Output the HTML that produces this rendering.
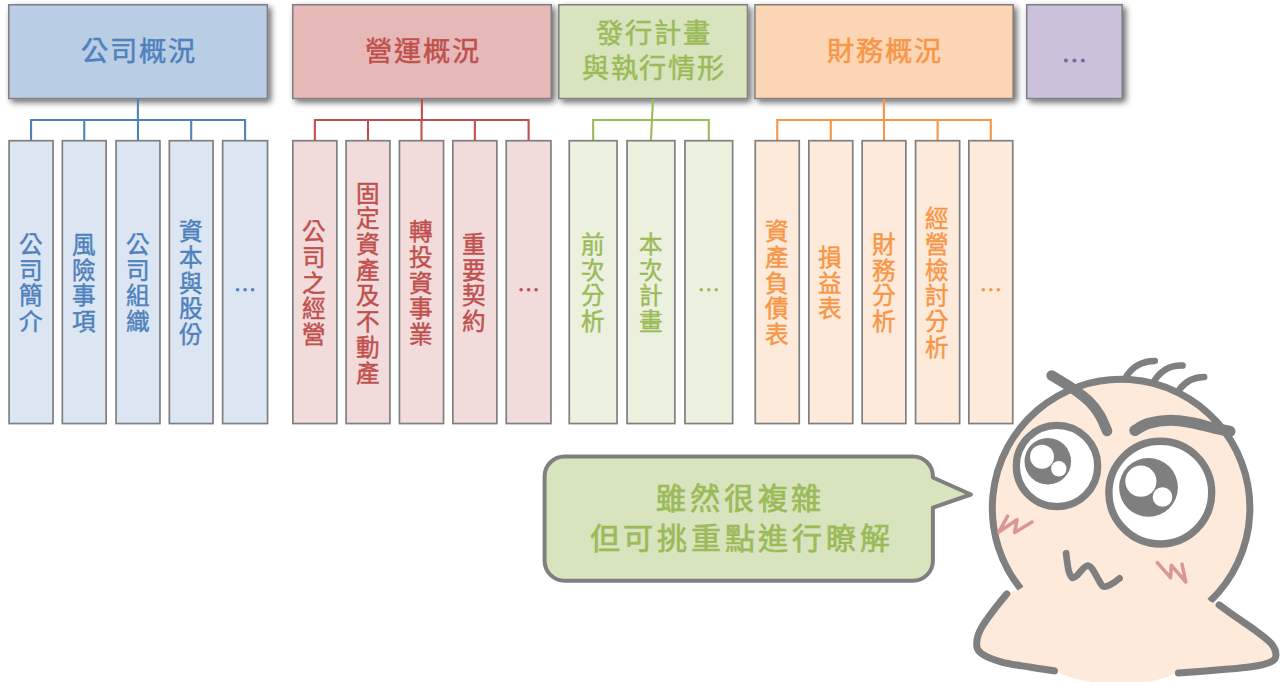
<!DOCTYPE html>
<html lang="zh-TW"><head><meta charset="utf-8"><style>
html,body{margin:0;padding:0;background:#fff;width:1280px;height:682px;overflow:hidden}
svg{display:block;font-family:'Liberation Sans', sans-serif}
</style></head><body>
<svg width="1280" height="682" viewBox="0 0 1280 682">
<defs><filter id="sh" x="-10%" y="-10%" width="130%" height="140%"><feGaussianBlur in="SourceAlpha" stdDeviation="3"/><feOffset dx="2.5" dy="3"/><feComponentTransfer><feFuncA type="linear" slope="0.6"/></feComponentTransfer><feMerge><feMergeNode/><feMergeNode in="SourceGraphic"/></feMerge></filter></defs>
<rect x="8.75" y="4.75" width="258.60" height="93.8" fill="#b9cde5" stroke="#7f7f7f" stroke-width="1.5" filter="url(#sh)"/>
<g fill="#4f81bd" stroke="#4f81bd" stroke-width="0.5" font-size="27.2" text-anchor="middle" dominant-baseline="central"><text x="94.78" y="51.20">公</text><text x="123.53" y="51.20">司</text><text x="152.28" y="51.20">概</text><text x="181.03" y="51.20">況</text></g>
<path d="M137.90,99 V120 M31.07,140.7 V120 H245.10 V140.7 M84.25,120 V140.7 M138.00,120 V140.7 M191.20,120 V140.7 " fill="none" stroke="#4f81bd" stroke-width="2.1"/>
<rect x="9.10" y="140.7" width="43.95" height="282.85" fill="#dce6f2" stroke="#7f7f7f" stroke-width="1.7"/>
<g fill="#4f81bd" stroke="#4f81bd" stroke-width="0.45" font-size="23.6" text-anchor="middle" dominant-baseline="central"><text x="30.68" y="245.05">公</text><text x="30.68" y="270.75">司</text><text x="30.68" y="296.45">簡</text><text x="30.68" y="322.15">介</text></g>
<rect x="62.35" y="140.7" width="43.80" height="282.85" fill="#dce6f2" stroke="#7f7f7f" stroke-width="1.7"/>
<g fill="#4f81bd" stroke="#4f81bd" stroke-width="0.45" font-size="23.6" text-anchor="middle" dominant-baseline="central"><text x="83.85" y="245.05">風</text><text x="83.85" y="270.75">險</text><text x="83.85" y="296.45">事</text><text x="83.85" y="322.15">項</text></g>
<rect x="116.05" y="140.7" width="43.90" height="282.85" fill="#dce6f2" stroke="#7f7f7f" stroke-width="1.7"/>
<g fill="#4f81bd" stroke="#4f81bd" stroke-width="0.45" font-size="23.6" text-anchor="middle" dominant-baseline="central"><text x="137.60" y="245.05">公</text><text x="137.60" y="270.75">司</text><text x="137.60" y="296.45">組</text><text x="137.60" y="322.15">織</text></g>
<rect x="169.35" y="140.7" width="43.70" height="282.85" fill="#dce6f2" stroke="#7f7f7f" stroke-width="1.7"/>
<g fill="#4f81bd" stroke="#4f81bd" stroke-width="0.45" font-size="23.6" text-anchor="middle" dominant-baseline="central"><text x="190.80" y="232.20">資</text><text x="190.80" y="257.90">本</text><text x="190.80" y="283.60">與</text><text x="190.80" y="309.30">股</text><text x="190.80" y="335.00">份</text></g>
<rect x="222.65" y="140.7" width="44.90" height="282.85" fill="#dce6f2" stroke="#7f7f7f" stroke-width="1.7"/>
<circle cx="237.60" cy="289.8" r="1.8" fill="#4f81bd"/><circle cx="245.10" cy="289.8" r="1.8" fill="#4f81bd"/><circle cx="252.60" cy="289.8" r="1.8" fill="#4f81bd"/>
<rect x="292.80" y="4.75" width="258.45" height="93.8" fill="#e6b9b8" stroke="#7f7f7f" stroke-width="1.5" filter="url(#sh)"/>
<g fill="#c0504d" stroke="#c0504d" stroke-width="0.5" font-size="27.2" text-anchor="middle" dominant-baseline="central"><text x="378.75" y="51.20">營</text><text x="407.50" y="51.20">運</text><text x="436.25" y="51.20">概</text><text x="465.00" y="51.20">況</text></g>
<path d="M421.88,99 V120 M314.85,140.7 V120 H528.60 V140.7 M368.00,120 V140.7 M421.50,120 V140.7 M474.85,120 V140.7 " fill="none" stroke="#c0504d" stroke-width="2.1"/>
<rect x="292.85" y="140.7" width="44.00" height="282.85" fill="#f2dcdb" stroke="#7f7f7f" stroke-width="1.7"/>
<g fill="#c0504d" stroke="#c0504d" stroke-width="0.45" font-size="23.6" text-anchor="middle" dominant-baseline="central"><text x="314.45" y="232.20">公</text><text x="314.45" y="257.90">司</text><text x="314.45" y="283.60">之</text><text x="314.45" y="309.30">經</text><text x="314.45" y="335.00">營</text></g>
<rect x="346.05" y="140.7" width="43.90" height="282.85" fill="#f2dcdb" stroke="#7f7f7f" stroke-width="1.7"/>
<g fill="#c0504d" stroke="#c0504d" stroke-width="0.45" font-size="23.6" text-anchor="middle" dominant-baseline="central"><text x="367.60" y="193.65">固</text><text x="367.60" y="219.35">定</text><text x="367.60" y="245.05">資</text><text x="367.60" y="270.75">產</text><text x="367.60" y="296.45">及</text><text x="367.60" y="322.15">不</text><text x="367.60" y="347.85">動</text><text x="367.60" y="373.55">產</text></g>
<rect x="399.45" y="140.7" width="44.10" height="282.85" fill="#f2dcdb" stroke="#7f7f7f" stroke-width="1.7"/>
<g fill="#c0504d" stroke="#c0504d" stroke-width="0.45" font-size="23.6" text-anchor="middle" dominant-baseline="central"><text x="421.10" y="232.20">轉</text><text x="421.10" y="257.90">投</text><text x="421.10" y="283.60">資</text><text x="421.10" y="309.30">事</text><text x="421.10" y="335.00">業</text></g>
<rect x="452.85" y="140.7" width="44.00" height="282.85" fill="#f2dcdb" stroke="#7f7f7f" stroke-width="1.7"/>
<g fill="#c0504d" stroke="#c0504d" stroke-width="0.45" font-size="23.6" text-anchor="middle" dominant-baseline="central"><text x="474.45" y="245.05">重</text><text x="474.45" y="270.75">要</text><text x="474.45" y="296.45">契</text><text x="474.45" y="322.15">約</text></g>
<rect x="506.25" y="140.7" width="44.70" height="282.85" fill="#f2dcdb" stroke="#7f7f7f" stroke-width="1.7"/>
<circle cx="521.10" cy="289.8" r="1.8" fill="#c0504d"/><circle cx="528.60" cy="289.8" r="1.8" fill="#c0504d"/><circle cx="536.10" cy="289.8" r="1.8" fill="#c0504d"/>
<rect x="558.80" y="4.75" width="188.65" height="93.8" fill="#d7e4bd" stroke="#7f7f7f" stroke-width="1.5" filter="url(#sh)"/>
<g fill="#9bbb59" stroke="#9bbb59" stroke-width="0.5" font-size="27.2" text-anchor="middle" dominant-baseline="central"><text x="609.85" y="33.55">發</text><text x="638.60" y="33.55">行</text><text x="667.35" y="33.55">計</text><text x="696.10" y="33.55">畫</text></g>
<g fill="#9bbb59" stroke="#9bbb59" stroke-width="0.5" font-size="27.2" text-anchor="middle" dominant-baseline="central"><text x="595.47" y="68.85">與</text><text x="624.22" y="68.85">執</text><text x="652.97" y="68.85">行</text><text x="681.72" y="68.85">情</text><text x="710.47" y="68.85">形</text></g>
<path d="M652.97,99 L650.95,140.7 M593.15,140.7 V120 H708.80 V140.7 " fill="none" stroke="#9bbb59" stroke-width="2.1"/>
<rect x="569.25" y="140.7" width="47.80" height="282.85" fill="#ebf1de" stroke="#7f7f7f" stroke-width="1.7"/>
<g fill="#9bbb59" stroke="#9bbb59" stroke-width="0.45" font-size="23.6" text-anchor="middle" dominant-baseline="central"><text x="592.75" y="245.05">前</text><text x="592.75" y="270.75">次</text><text x="592.75" y="296.45">分</text><text x="592.75" y="322.15">析</text></g>
<rect x="627.05" y="140.7" width="47.80" height="282.85" fill="#ebf1de" stroke="#7f7f7f" stroke-width="1.7"/>
<g fill="#9bbb59" stroke="#9bbb59" stroke-width="0.45" font-size="23.6" text-anchor="middle" dominant-baseline="central"><text x="650.55" y="245.05">本</text><text x="650.55" y="270.75">次</text><text x="650.55" y="296.45">計</text><text x="650.55" y="322.15">畫</text></g>
<rect x="684.95" y="140.7" width="47.70" height="282.85" fill="#ebf1de" stroke="#7f7f7f" stroke-width="1.7"/>
<circle cx="701.30" cy="289.8" r="1.8" fill="#9bbb59"/><circle cx="708.80" cy="289.8" r="1.8" fill="#9bbb59"/><circle cx="716.30" cy="289.8" r="1.8" fill="#9bbb59"/>
<rect x="754.95" y="4.75" width="258.20" height="93.8" fill="#fcd5b5" stroke="#7f7f7f" stroke-width="1.5" filter="url(#sh)"/>
<g fill="#f79646" stroke="#f79646" stroke-width="0.5" font-size="27.2" text-anchor="middle" dominant-baseline="central"><text x="840.78" y="51.20">財</text><text x="869.53" y="51.20">務</text><text x="898.28" y="51.20">概</text><text x="927.03" y="51.20">況</text></g>
<path d="M883.90,99 V120 M777.25,140.7 V120 H990.80 V140.7 M830.80,120 V140.7 M884.00,120 V140.7 M937.60,120 V140.7 " fill="none" stroke="#f79646" stroke-width="2.1"/>
<rect x="755.25" y="140.7" width="44.00" height="282.85" fill="#fdeada" stroke="#7f7f7f" stroke-width="1.7"/>
<g fill="#f79646" stroke="#f79646" stroke-width="0.45" font-size="23.6" text-anchor="middle" dominant-baseline="central"><text x="776.85" y="232.20">資</text><text x="776.85" y="257.90">產</text><text x="776.85" y="283.60">負</text><text x="776.85" y="309.30">債</text><text x="776.85" y="335.00">表</text></g>
<rect x="808.85" y="140.7" width="43.90" height="282.85" fill="#fdeada" stroke="#7f7f7f" stroke-width="1.7"/>
<g fill="#f79646" stroke="#f79646" stroke-width="0.45" font-size="23.6" text-anchor="middle" dominant-baseline="central"><text x="830.40" y="257.90">損</text><text x="830.40" y="283.60">益</text><text x="830.40" y="309.30">表</text></g>
<rect x="862.15" y="140.7" width="43.70" height="282.85" fill="#fdeada" stroke="#7f7f7f" stroke-width="1.7"/>
<g fill="#f79646" stroke="#f79646" stroke-width="0.45" font-size="23.6" text-anchor="middle" dominant-baseline="central"><text x="883.60" y="245.05">財</text><text x="883.60" y="270.75">務</text><text x="883.60" y="296.45">分</text><text x="883.60" y="322.15">析</text></g>
<rect x="915.55" y="140.7" width="44.10" height="282.85" fill="#fdeada" stroke="#7f7f7f" stroke-width="1.7"/>
<g fill="#f79646" stroke="#f79646" stroke-width="0.45" font-size="23.6" text-anchor="middle" dominant-baseline="central"><text x="937.20" y="219.35">經</text><text x="937.20" y="245.05">營</text><text x="937.20" y="270.75">檢</text><text x="937.20" y="296.45">討</text><text x="937.20" y="322.15">分</text><text x="937.20" y="347.85">析</text></g>
<rect x="968.85" y="140.7" width="43.90" height="282.85" fill="#fdeada" stroke="#7f7f7f" stroke-width="1.7"/>
<circle cx="983.30" cy="289.8" r="1.8" fill="#f79646"/><circle cx="990.80" cy="289.8" r="1.8" fill="#f79646"/><circle cx="998.30" cy="289.8" r="1.8" fill="#f79646"/>
<rect x="1026.75" y="4.75" width="95.4" height="93.8" fill="#ccc1da" stroke="#7f7f7f" stroke-width="1.5" filter="url(#sh)"/>
<circle cx="1065.95" cy="60.4" r="2.0" fill="#8064a2"/><circle cx="1074.40" cy="60.4" r="2.0" fill="#8064a2"/><circle cx="1082.85" cy="60.4" r="2.0" fill="#8064a2"/>
<path d="M564.6,456.4 H912.9 A20,20 0 0 1 932.9,476.4 V477.5 L970.9,494.5 L932.9,507.6 V560.8 A20,20 0 0 1 912.9,580.8 H564.6 A20,20 0 0 1 544.6,560.8 V476.4 A20,20 0 0 1 564.6,456.4 Z" fill="#d7e4bd" stroke="#7f7f7f" stroke-width="4" stroke-linejoin="round"/>
<g fill="#9bbb59" stroke="#9bbb59" stroke-width="0.7" font-size="30" text-anchor="middle" dominant-baseline="central"><text x="671.25" y="498.60">雖</text><text x="705.00" y="498.60">然</text><text x="738.75" y="498.60">很</text><text x="772.50" y="498.60">複</text><text x="806.25" y="498.60">雜</text></g>
<g fill="#9bbb59" stroke="#9bbb59" stroke-width="0.7" font-size="30" text-anchor="middle" dominant-baseline="central"><text x="604.60" y="538.20">但</text><text x="638.35" y="538.20">可</text><text x="672.10" y="538.20">挑</text><text x="705.85" y="538.20">重</text><text x="739.60" y="538.20">點</text><text x="773.35" y="538.20">進</text><text x="807.10" y="538.20">行</text><text x="840.85" y="538.20">瞭</text><text x="874.60" y="538.20">解</text></g>
<g stroke="#7f7f7f" stroke-linecap="round" stroke-linejoin="round" fill="none">
<path d="M1219.1,604.9 C1222.1,607.0 1230.9,613.4 1236.9,617.7 C1243.0,622.0 1249.7,626.2 1255.4,630.5 C1261.1,634.8 1267.6,639.3 1271.0,643.3 C1274.4,647.3 1276.0,651.6 1276.0,654.7 C1276.0,657.8 1275.2,659.8 1271.0,661.8 C1266.8,663.8 1259.1,665.5 1251.1,666.8 C1243.0,668.1 1234.8,668.6 1222.7,669.6 C1210.6,670.6 1185.8,672.4 1178.4,673.0 L1176,673 C1150,687 1090,689 1055,671 C1050.5,670.3 1039.8,668.7 1031.0,667.2 C1022.2,665.7 1010.0,664.4 1001.7,662.1 C993.4,659.8 985.3,656.5 981.1,653.3 C976.9,650.1 976.7,647.1 976.7,643.0 C976.7,638.9 978.2,634.0 981.1,628.4 C984.0,622.8 990.0,615.0 994.3,609.3 C998.6,603.5 1004.7,596.5 1006.8,593.9 L1020.7,588.8 A128.8,128.8 0 1 1 1209.9,601.4 Z" fill="#fdeada" stroke="none"/>
<path d="M1020.7,588.8 A128.8,128.8 0 1 1 1209.9,601.4" stroke-width="7" stroke-linecap="butt"/>
<path d="M1020.7,588.8 L1006,597 L1009,606 L1030,596 Z M1209.9,601.4 L1222,606 L1214,614 L1200,606 Z" fill="#fdeada" stroke="none"/>
<path d="M1006.8,593.9 C1004.7,596.5 998.6,603.5 994.3,609.3 C990.0,615.0 984.0,622.8 981.1,628.4 C978.2,634.0 976.7,638.9 976.7,643.0 C976.7,647.1 976.9,650.1 981.1,653.3 C985.3,656.5 993.4,659.8 1001.7,662.1 C1010.0,664.4 1022.2,665.7 1031.0,667.2 C1039.8,668.7 1050.5,670.3 1054.4,670.9 " stroke-width="7"/>
<path d="M1219.1,604.9 C1222.1,607.0 1230.9,613.4 1236.9,617.7 C1243.0,622.0 1249.7,626.2 1255.4,630.5 C1261.1,634.8 1267.6,639.3 1271.0,643.3 C1274.4,647.3 1276.0,651.6 1276.0,654.7 C1276.0,657.8 1275.2,659.8 1271.0,661.8 C1266.8,663.8 1259.1,665.5 1251.1,666.8 C1243.0,668.1 1234.8,668.6 1222.7,669.6 C1210.6,670.6 1185.8,672.4 1178.4,673.0 " stroke-width="7"/>
<path d="M1051.6,375.5 C1055.2,377.7 1066.8,384.4 1073.0,388.7 C1079.2,393.0 1084.6,397.0 1089.0,401.3 C1093.4,405.6 1096.4,409.6 1099.4,414.5 C1102.4,419.4 1105.8,428.2 1107.1,431.0 " stroke-width="10.5"/>
<path d="M1134.8,430.5 C1137.1,429.3 1142.5,425.1 1148.4,423.4 C1154.3,421.7 1163.0,420.3 1170.0,420.2 C1177.0,420.1 1183.3,421.2 1190.6,422.5 C1197.9,423.8 1207.4,426.6 1214.0,428.1 C1220.6,429.6 1227.3,430.8 1230.0,431.4 " stroke-width="11"/>
<path d="M1126.7,375.8 C1133,366 1142,361 1154.8,360.9" stroke-width="6.5"/>
<path d="M1154.8,380 C1161,371 1170,365 1182.6,365.6" stroke-width="6.5"/>
<path d="M1179.5,389.2 C1186,381 1194,377 1204.2,377" stroke-width="6.5"/>
<circle cx="1057" cy="466" r="40.7" fill="#fff" stroke-width="7.3"/>
<circle cx="1047.8" cy="461.3" r="23.3" fill="#7f7f7f" stroke="none"/>
<circle cx="1042" cy="456.7" r="12" fill="#fff" stroke="none"/>
<circle cx="1058.8" cy="468.8" r="7.7" fill="#fff" stroke="none"/>
<circle cx="1160.3" cy="492.6" r="51.4" fill="#fff" stroke-width="7.4"/>
<circle cx="1148.5" cy="487.4" r="29.4" fill="#7f7f7f" stroke="none"/>
<circle cx="1140.9" cy="481.2" r="15.6" fill="#fff" stroke="none"/>
<circle cx="1162.5" cy="497" r="9.8" fill="#fff" stroke="none"/>
<path d="M1066.1,553.2 C1066.3,554.7 1066.7,558.9 1067.2,562.0 C1067.7,565.1 1068.0,569.1 1068.9,571.7 C1069.8,574.4 1071.0,577.3 1072.4,577.9 C1073.8,578.5 1075.5,576.8 1077.3,575.2 C1079.1,573.6 1081.7,569.8 1083.5,568.2 C1085.3,566.6 1086.4,565.4 1087.9,565.5 C1089.4,565.6 1090.7,566.9 1092.3,569.0 C1093.9,571.1 1095.8,575.0 1097.5,577.9 C1099.2,580.8 1101.0,584.9 1102.8,586.2 C1104.6,587.5 1106.2,586.4 1108.1,585.8 C1110.0,585.1 1112.4,583.5 1114.3,582.3 C1116.2,581.0 1118.6,579.0 1119.5,578.3 " stroke-width="6.7"/>
<path d="M1007.6,516.2 L998.8,532 L1017,519.7 L1014.6,532.6 L1032,522" stroke="#d99694" stroke-width="3.5"/>
<path d="M1157.3,562.6 L1170.5,577.6 L1171.4,565.3 L1185.8,582 L1182,564.1" stroke="#d99694" stroke-width="3.5"/>
</g>

</svg>
</body></html>
